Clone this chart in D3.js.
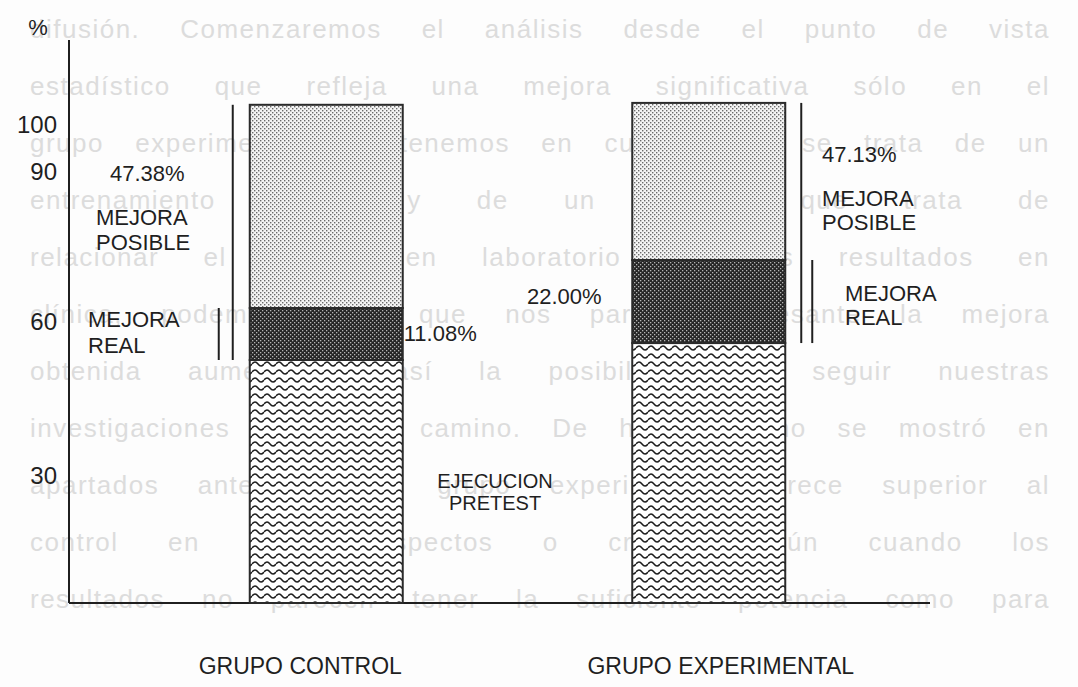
<!DOCTYPE html>
<html>
<head>
<meta charset="utf-8">
<script src="https://cdn.jsdelivr.net/npm/d3@7"></script>
<style>
  body { margin: 0; background: #fdfdfd; }
  svg { display: block; font-family: "Liberation Sans", Arial, Helvetica, sans-serif; }
</style>
</head>
<body>
<svg id="chart"></svg>
<script>
// groups and stacked segments (values read on the drawn % axis)
const groups = ["GRUPO CONTROL", "GRUPO EXPERIMENTAL"];
const segments = ["pretest", "real", "posible"];
const pretest = [52.6, 55.9];
const mejoraReal = [10.2, 16.5];
const mejoraPosible = [41.5, 32.3];

// labels printed on the chart
const pctPosible = ["47.38%", "47.13%"];
const pctReal = ["11.08%", "22.00%"];
const tickValues = [30, 60, 90, 100];
// the printed axis is not evenly spaced, keep its ticks where they sit
const tickPos = [0, 30, 60, 90, 100];

// faint text showing through the scanned page
const bgLines = [
  "difusión. Comenzaremos el análisis desde el punto de vista",
  "estadístico que refleja una mejora significativa sólo en el",
  "grupo experimental. Si tenemos en cuenta que se trata de un",
  "entrenamiento breve, y de un estudio que trata de",
  "relacionar el trabajo en laboratorio con los resultados en",
  "clínica, podemos decir que nos parece interesante la mejora",
  "obtenida aumentando así la posibilidad de seguir nuestras",
  "investigaciones por este camino. De hecho, como se mostró en",
  "apartados anteriores, el grupo experimental parece superior al",
  "control en varios aspectos o criterios, aún cuando los",
  "resultados no parecen tener la suficiente potencia como para"
];

const width = 1078;
const height = 687;

const svg = d3.select("#chart")
  .attr("width", width)
  .attr("height", height)
  .attr("viewBox", [0, 0, width, height]);

// patterns
const defs = svg.append("defs");

const pLight = defs.append("pattern")
  .attr("id", "dotsLight")
  .attr("patternUnits", "userSpaceOnUse")
  .attr("width", 4).attr("height", 4);
pLight.append("rect").attr("width", 4).attr("height", 4).attr("fill", "#f4f4f4");
pLight.append("rect").attr("x", 0).attr("y", 0).attr("width", 1.4).attr("height", 1.4).attr("fill", "#6a6a6a");
pLight.append("rect").attr("x", 2).attr("y", 2).attr("width", 1.4).attr("height", 1.4).attr("fill", "#6a6a6a");

const pDark = defs.append("pattern")
  .attr("id", "dotsDark")
  .attr("patternUnits", "userSpaceOnUse")
  .attr("width", 4).attr("height", 4);
pDark.append("rect").attr("width", 4).attr("height", 4).attr("fill", "#262626");
pDark.append("rect").attr("x", 0).attr("y", 0).attr("width", 1.3).attr("height", 1.3).attr("fill", "#b5b5b5");
pDark.append("rect").attr("x", 2).attr("y", 2).attr("width", 1.3).attr("height", 1.3).attr("fill", "#b5b5b5");

const pWave = defs.append("pattern")
  .attr("id", "waves")
  .attr("patternUnits", "userSpaceOnUse")
  .attr("width", 12).attr("height", 8);
pWave.append("rect").attr("width", 12).attr("height", 8).attr("fill", "#ffffff");
pWave.append("path")
  .attr("d", "M0,4 Q3,0 6,4 Q9,8 12,4")
  .attr("fill", "none")
  .attr("stroke", "#1e1e1e")
  .attr("stroke-width", 1.5);

// background bleed-through text, justified
const bg = svg.append("g")
  .attr("fill", "#dcdcdc")
  .style("font-size", "26px")
  .style("letter-spacing", "1.5px");

const textLeft = 30, textRight = 1050;
bgLines.forEach((line, i) => {
  const words = line.split(" ");
  const ly = 38 + 57 * i;
  const nodes = words.map(w => bg.append("text").attr("y", ly).text(w));
  const widths = nodes.map(n => n.node().getComputedTextLength());
  const gap = (textRight - textLeft - d3.sum(widths)) / (words.length - 1);
  let cx = textLeft;
  nodes.forEach((n, j) => {
    n.attr("x", cx);
    cx += widths[j] + gap;
  });
});

// scales
const x = d3.scaleBand()
  .domain(groups)
  .range([135, 900])
  .paddingInner(0.6)
  .paddingOuter(0.3);

const y = d3.scaleLinear()
  .domain(tickPos)
  .range([603, 476, 322, 172, 125]);

// stacked data
const table = groups.map((g, i) => ({
  group: g,
  pretest: pretest[i],
  real: mejoraReal[i],
  posible: mejoraPosible[i]
}));
const stacked = d3.stack().keys(segments)(table);
const fills = { pretest: "url(#waves)", real: "url(#dotsDark)", posible: "url(#dotsLight)" };

const ink = "#1f1f1f";

// axes lines
svg.append("line")
  .attr("x1", 69).attr("x2", 69)
  .attr("y1", 40).attr("y2", y(0))
  .attr("stroke", ink).attr("stroke-width", 2);
svg.append("line")
  .attr("x1", 69).attr("x2", 930)
  .attr("y1", y(0)).attr("y2", y(0))
  .attr("stroke", ink).attr("stroke-width", 2);

const yAxis = svg.append("g")
  .attr("transform", "translate(69,0)")
  .call(d3.axisLeft(y).tickValues(tickValues).tickSize(0).tickPadding(12));
yAxis.select(".domain").remove();
yAxis.selectAll("text")
  .attr("fill", ink)
  .style("font-size", "24px")
  .style("font-family", "'Liberation Sans', Arial, sans-serif");

svg.append("text")
  .attr("x", 38).attr("y", 35)
  .attr("text-anchor", "middle")
  .attr("fill", ink)
  .style("font-size", "22px")
  .text("%");

// bars
svg.append("g")
  .selectAll("g")
  .data(stacked)
  .join("g")
  .attr("fill", d => fills[d.key])
  .selectAll("rect")
  .data(d => d)
  .join("rect")
  .attr("x", d => x(d.data.group))
  .attr("y", d => y(d[1]))
  .attr("width", x.bandwidth())
  .attr("height", d => y(d[0]) - y(d[1]))
  .attr("stroke", "#2a2a2a")
  .attr("stroke-width", 2);

// brackets beside the bars
const barTop = groups.map((g, i) => pretest[i] + mejoraReal[i] + mejoraPosible[i]);
const realTop = groups.map((g, i) => pretest[i] + mejoraReal[i]);
const brackets = [
  { bx: x(groups[0]) - 17, y1: barTop[0], y2: pretest[0] },
  { bx: x(groups[0]) - 31, y1: realTop[0], y2: pretest[0] },
  { bx: x(groups[1]) + x.bandwidth() + 16, y1: barTop[1], y2: pretest[1] },
  { bx: x(groups[1]) + x.bandwidth() + 27, y1: realTop[1], y2: pretest[1] }
];
svg.append("g")
  .selectAll("line")
  .data(brackets)
  .join("line")
  .attr("x1", d => d.bx).attr("x2", d => d.bx)
  .attr("y1", d => y(d.y1)).attr("y2", d => y(d.y2))
  .attr("stroke", ink)
  .attr("stroke-width", 2);

// annotations
const lab = svg.append("g")
  .attr("fill", ink)
  .style("font-size", "22px");

function put(txt, px, py, anchor, size) {
  const t = lab.append("text")
    .attr("x", px).attr("y", py)
    .attr("text-anchor", anchor || "start")
    .text(txt);
  if (size) t.style("font-size", size + "px");
}

put(pctPosible[0], 110, 181);
put("MEJORA", 96, 225);
put("POSIBLE", 96, 250);
put("MEJORA", 88, 327);
put("REAL", 88, 353);
put(pctReal[0], x(groups[0]) + x.bandwidth() + 1, 341);

put(pctReal[1], 527, 304);
put(pctPosible[1], 822, 162);
put("MEJORA", 822, 206);
put("POSIBLE", 822, 230);
put("MEJORA", 845, 301);
put("REAL", 845, 325);

put("EJECUCION", 495, 488, "middle", 20);
put("PRETEST", 495, 510, "middle", 20);

// group names (printed slightly off the bar centres)
const nameShift = [-26, 12];
svg.append("g")
  .selectAll("text")
  .data(groups)
  .join("text")
  .attr("x", (d, i) => x(d) + x.bandwidth() / 2 + nameShift[i])
  .attr("y", 674)
  .attr("text-anchor", "middle")
  .attr("fill", ink)
  .style("font-size", "23px")
  .text(d => d);
</script>
</body>
</html>
